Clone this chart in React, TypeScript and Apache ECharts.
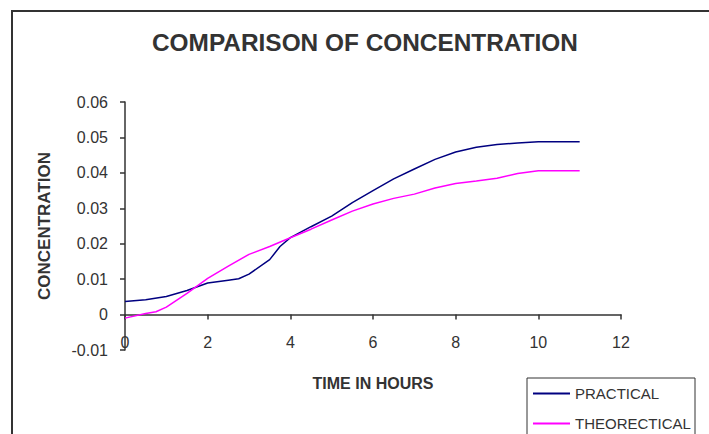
import React, { useEffect, useRef } from "react";
import * as echarts from "echarts";

const practicalHours = [0, 0.5, 1, 1.5, 2, 2.5, 2.75, 3, 3.5, 3.75, 4, 4.5, 5, 5.5, 6, 6.5, 7, 7.5, 8, 8.5, 9, 9.5, 10, 11];
const practicalValues = [0.0037, 0.0042, 0.0051, 0.0068, 0.0089, 0.0097, 0.0101, 0.0114, 0.0155, 0.0192, 0.0217, 0.0248, 0.0278, 0.0316, 0.035, 0.0383, 0.0411, 0.0438, 0.0459, 0.0472, 0.048, 0.0484, 0.0488, 0.0488];

const theoreticalHours = [0, 0.5, 0.75, 1, 1.5, 2, 2.5, 3, 3.5, 4, 4.5, 5, 5.5, 6, 6.5, 7, 7.5, 8, 8.5, 9, 9.5, 10, 11];
const theoreticalValues = [-0.001, 0.0003, 0.0008, 0.0021, 0.006, 0.0102, 0.0137, 0.017, 0.0192, 0.0217, 0.0241, 0.0267, 0.0292, 0.0312, 0.0328, 0.034, 0.0357, 0.037, 0.0377, 0.0385, 0.0398, 0.0406, 0.0406];

const seriesNames = ["PRACTICAL", "THEORECTICAL"];
const FONT = "'Liberation Sans', Arial, sans-serif";
const TXT = "#333333";

export default function App() {
  const ref = useRef<HTMLDivElement>(null);
  useEffect(() => {
    if (!ref.current) return;
    const chart = echarts.init(ref.current, null, { renderer: "svg" });
    chart.setOption({
      animation: false,
      backgroundColor: "#ffffff",
      title: {
        text: "COMPARISON OF CONCENTRATION",
        left: 152,
        top: 30,
        padding: 0,
        textStyle: { fontFamily: FONT, fontSize: 24.4, fontWeight: "bold", color: TXT },
      },
      grid: { left: 125, right: 88, top: 102, bottom: 84, containLabel: false },
      legend: {
        orient: "vertical",
        left: 533,
        top: 386,
        padding: 0,
        itemWidth: 37,
        itemHeight: 2,
        itemGap: 15,
        icon: "rect",
        data: seriesNames,
        textStyle: { fontFamily: FONT, fontSize: 15, color: TXT, lineHeight: 14, padding: [0, 0, 0, 0] },
      },
      xAxis: {
        type: "value",
        min: 0,
        max: 12,
        interval: 2,
        name: "TIME IN HOURS",
        nameLocation: "middle",
        nameGap: 25,
        nameTextStyle: { fontFamily: FONT, fontSize: 16, fontWeight: "bold", color: TXT },
        axisLine: { onZero: true, lineStyle: { color: TXT, width: 1.5 } },
        axisTick: { show: true, length: 5, lineStyle: { color: TXT, width: 1.5 } },
        axisLabel: { fontFamily: FONT, fontSize: 16, color: TXT, margin: -16 },
        splitLine: { show: false },
      },
      yAxis: {
        type: "value",
        min: -0.01,
        max: 0.06,
        interval: 0.01,
        name: "CONCENTRATION",
        nameLocation: "middle",
        nameGap: 72,
        nameTextStyle: { fontFamily: FONT, fontSize: 17, fontWeight: "bold", color: TXT },
        axisLine: { show: true, onZero: false, lineStyle: { color: TXT, width: 1.5 } },
        axisTick: { show: true, length: 5, lineStyle: { color: TXT, width: 1.5 } },
        axisLabel: {
          fontFamily: FONT,
          fontSize: 16,
          color: TXT,
          margin: 17,
          formatter: (v: number) => String(parseFloat(v.toFixed(3))),
        },
        splitLine: { show: false },
      },
      graphic: [
        {
          type: "rect",
          shape: { x: 12, y: 11, width: 760, height: 480 },
          style: { fill: "none", stroke: "#333333", lineWidth: 2 },
          silent: true,
        },
        {
          type: "rect",
          shape: { x: 527, y: 378, width: 168, height: 70 },
          style: { fill: "none", stroke: "#333333", lineWidth: 1 },
          silent: true,
        },
      ],
      series: [
        {
          name: seriesNames[0],
          type: "line",
          data: practicalHours.map((h, i) => [h, practicalValues[i]]),
          symbol: "none",
          lineStyle: { color: "#000080", width: 1.5 },
          itemStyle: { color: "#000080" },
        },
        {
          name: seriesNames[1],
          type: "line",
          data: theoreticalHours.map((h, i) => [h, theoreticalValues[i]]),
          symbol: "none",
          lineStyle: { color: "#ff00ff", width: 1.5 },
          itemStyle: { color: "#ff00ff" },
        },
      ],
    });
    return () => chart.dispose();
  }, []);
  return <div ref={ref} style={{ position: "fixed", left: 0, top: 0, width: 709, height: 434 }} />;
}
